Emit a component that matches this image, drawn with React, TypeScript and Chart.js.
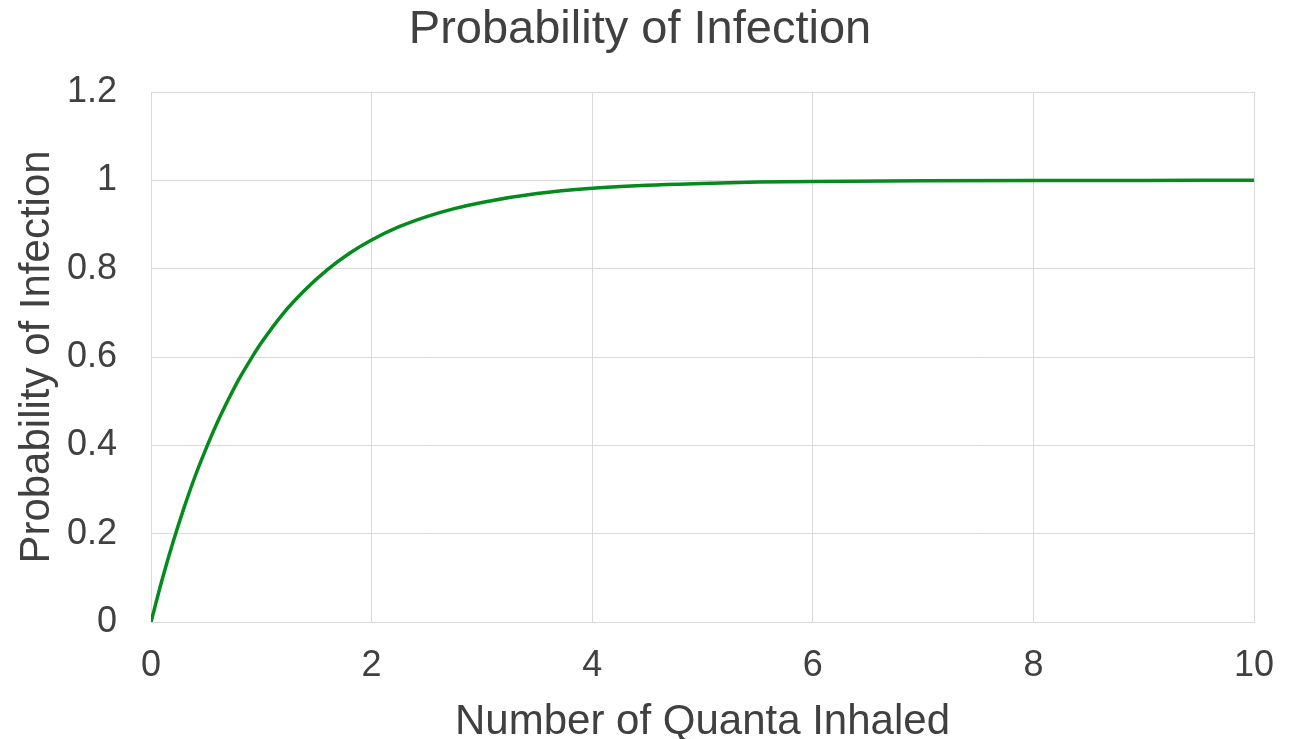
import React, { useEffect, useRef } from "react";
import { Chart, registerables } from "chart.js";

Chart.register(...registerables);

const chartTitle = "Probability of Infection";
const xAxisTitle = "Number of Quanta Inhaled";
const yAxisTitle = "Probability of Infection";

// Quanta inhaled (x) and probability of infection (y)
const quanta = [
  0, 0.1, 0.2, 0.3, 0.4, 0.5, 0.6, 0.7, 0.8, 0.9, 1.0, 1.2, 1.4, 1.6, 1.8, 2.0,
  2.25, 2.5, 2.75, 3.0, 3.5, 4.0, 4.5, 5.0, 5.5, 6.0, 7.0, 8.0, 9.0, 10.0,
];
const probability = [
  0, 0.095, 0.181, 0.259, 0.33, 0.393, 0.451, 0.503, 0.551, 0.593, 0.632, 0.699,
  0.753, 0.798, 0.835, 0.865, 0.895, 0.918, 0.936, 0.95, 0.97, 0.982, 0.989,
  0.993, 0.996, 0.9975, 0.999, 0.9997, 0.9999, 1.0,
];

const xMin = 0;
const xMax = 10;
const xStep = 2;
const yMin = 0;
const yMax = 1.2;
const yStep = 0.2;

const FONT = "'Liberation Sans', Arial, sans-serif";
const TEXT = "#404040";
const GRID = "#d9d9d9";
const LINE = "#048a1d";

const fmt = (v: any) => String(Number(Number(v).toFixed(2)));

export default function App() {
  const ref = useRef<HTMLCanvasElement | null>(null);

  useEffect(() => {
    if (!ref.current) return;
    const points = quanta.map((x, i) => ({ x, y: probability[i] }));
    const chart = new Chart(ref.current, {
      type: "line",
      data: {
        datasets: [
          {
            data: points,
            borderColor: LINE,
            borderWidth: 3.5,
            pointRadius: 0,
            fill: false,
            cubicInterpolationMode: "monotone",
            yAxisID: "y",
          },
        ],
      },
      options: {
        responsive: false,
        animation: false,
        layout: { padding: { left: 0, right: 24, top: 0, bottom: 0 } },
        plugins: {
          legend: { display: false },
          tooltip: { enabled: false },
          title: {
            display: true,
            text: chartTitle,
            color: TEXT,
            font: { family: FONT, size: 47, weight: "normal", lineHeight: 1 },
            padding: { top: 6.5, bottom: 38.5 },
          },
        },
        scales: {
          x: {
            type: "linear",
            min: xMin,
            max: xMax,
            ticks: {
              stepSize: xStep,
              color: TEXT,
              font: { family: FONT, size: 36 },
              padding: 22,
              maxRotation: 0,
              callback: fmt,
            },
            grid: { color: GRID, lineWidth: 1, drawTicks: false },
            border: { color: GRID, width: 1 },
            title: {
              display: true,
              text: xAxisTitle,
              color: TEXT,
              font: { family: FONT, size: 42, lineHeight: 1 },
              padding: { top: 0, bottom: -4.5 },
            },
            afterFit: (s: any) => {
              s.height = 117;
            },
          },
          y: {
            type: "linear",
            position: "left",
            min: yMin,
            max: yMax,
            ticks: {
              stepSize: yStep,
              color: TEXT,
              font: { family: FONT, size: 36 },
              padding: 34,
              callback: fmt,
            },
            grid: { color: GRID, lineWidth: 1, drawTicks: false },
            border: { color: GRID, width: 1 },
            title: {
              display: true,
              text: yAxisTitle,
              color: TEXT,
              font: { family: FONT, size: 42, lineHeight: 1 },
              padding: { top: 16.5, bottom: 0 },
            },
            afterFit: (s: any) => {
              s.width = 151;
            },
          },
          yRight: {
            type: "linear",
            position: "right",
            min: yMin,
            max: yMax,
            display: true,
            ticks: { display: false },
            grid: { display: false, drawTicks: false },
            border: { display: false },
            afterFit: (s: any) => {
              s.width = 26;
            },
          },
        },
      },
    } as any);
    return () => chart.destroy();
  }, []);

  return (
    <div
      style={{
        position: "fixed",
        left: 0,
        top: 0,
        width: 1304,
        height: 739,
        background: "#ffffff",
      }}
    >
      <canvas ref={ref} width={1304} height={739} />
    </div>
  );
}
